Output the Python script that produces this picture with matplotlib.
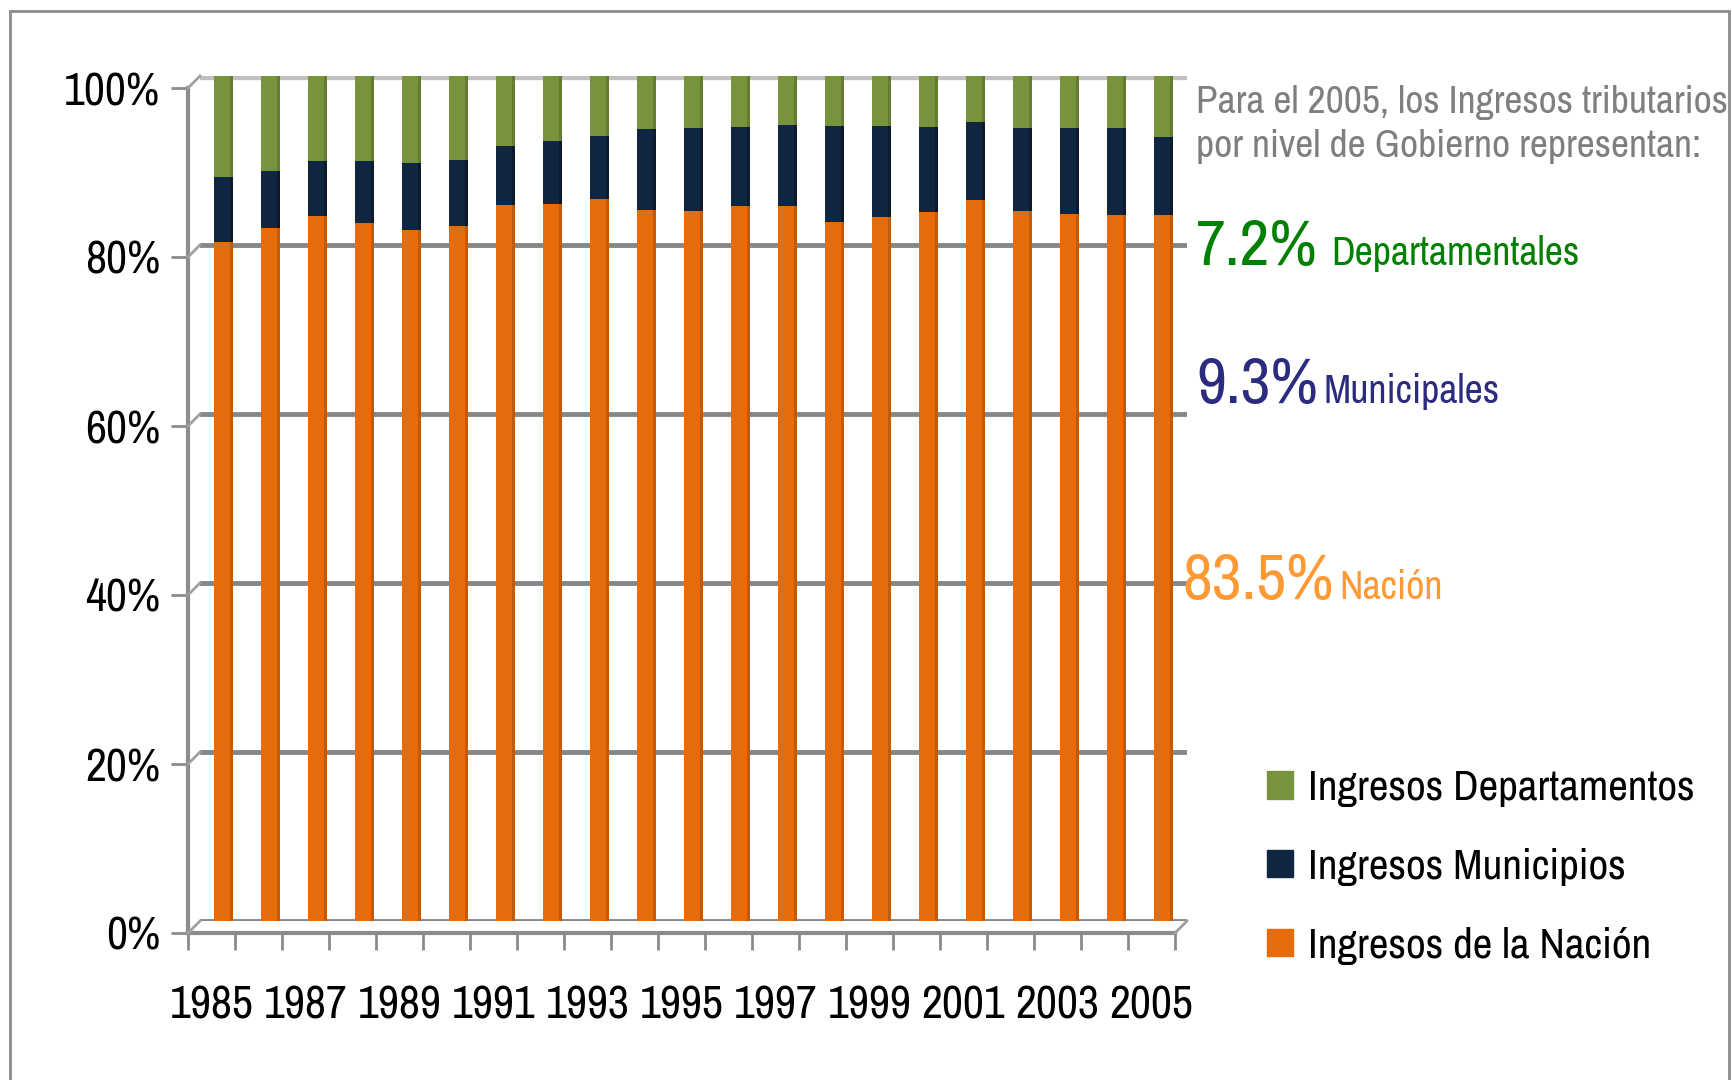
import numpy as np
import matplotlib

matplotlib.use("Agg")
import matplotlib.pyplot as plt
from matplotlib.lines import Line2D
from matplotlib.patches import Patch, Rectangle

years = list(range(1985, 2006))
# shares in %
nacion = [80.4, 82.0, 83.4, 82.6, 81.8, 82.3, 84.7, 84.9, 85.4, 84.2, 84.0,
          84.6, 84.6, 82.7, 83.3, 83.9, 85.3, 84.0, 83.7, 83.5, 83.5]
municipios = [7.7, 6.7, 6.5, 7.3, 7.9, 7.8, 7.0, 7.4, 7.5, 9.5, 9.8,
              9.4, 9.6, 11.4, 10.8, 10.1, 9.2, 9.9, 10.2, 10.4, 9.3]
departamentos = [100 - n - m for n, m in zip(nacion, municipios)]

series_labels = ["Ingresos Departamentos", "Ingresos Municipios", "Ingresos de la Nación"]
colors = {"dep": "#77933C", "mun": "#10253F", "nac": "#E46C0A"}

plt.rcParams["font.family"] = ["Archivo Narrow", "Liberation Sans Narrow", "DejaVu Sans"]

W, H = 1732, 1080
fig = plt.figure(figsize=(W / 100, H / 100), dpi=100)


def box(left, top, right, bottom):
    return [left / W, 1 - bottom / H, (right - left) / W, (bottom - top) / H]


# outer frame
fig.patches.append(Rectangle((10 / W, -0.05), (1729 - 10) / W, 1.05 - 11 / H,
                             transform=fig.transFigure, fill=False,
                             edgecolor="#8c8c8c", lw=2))

# back wall: gridlines + bars
back = fig.add_axes(box(200, 76, 1187, 921))
front = fig.add_axes(box(188, 88, 1175, 933))

x = np.arange(len(years))
back.set_xlim(-0.5, len(years) - 0.5)
back.set_ylim(0, 1)
for v in [0.0, 0.2, 0.4, 0.6, 0.8]:
    back.axhline(v, color="#878787", lw=3.5, zorder=1)
back.axhline(1.0, color="#c0c0c0", lw=6, zorder=1)

nac = np.array(nacion) / 100
mun = np.array(municipios) / 100
dep = np.array(departamentos) / 100
bw = 0.42
back.bar(x, nac, bw, color=colors["nac"], zorder=3)
back.bar(x, mun, bw, bottom=nac, color=colors["mun"], zorder=3)
back.bar(x, dep, bw, bottom=nac + mun, color=colors["dep"], zorder=3)
# darker right side of each cylinder-ish bar
side = 0.08
back.bar(x + bw / 2 - side / 2, nac, side, color="#C45A05", zorder=4)
back.bar(x + bw / 2 - side / 2, mun, side, bottom=nac, color="#0B1A2E", zorder=4)
back.bar(x + bw / 2 - side / 2, dep, side, bottom=nac + mun, color="#637C2F", zorder=4)
back.set_axis_off()

# front plane: axes lines, ticks and labels
front.patch.set_visible(False)
front.set_xlim(-0.5, len(years) - 0.5)
front.set_ylim(0, 1)
for s in ["top", "right"]:
    front.spines[s].set_visible(False)
for s in ["left", "bottom"]:
    front.spines[s].set_color("#8c8c8c")
    front.spines[s].set_linewidth(3)
front.set_yticks([0, 0.2, 0.4, 0.6, 0.8, 1.0])
front.set_yticklabels(["0%", "20%", "40%", "60%", "80%", "100%"])
front.tick_params(axis="y", length=12, width=2, color="#8c8c8c", labelsize=33, pad=8)
front.set_xticks(x[::2])
front.set_xticklabels([str(y) for y in years[::2]])
front.set_xticks(np.arange(-0.5, len(years), 1), minor=True)
front.tick_params(axis="x", which="major", length=0, labelsize=33, pad=37)
front.tick_params(axis="x", which="minor", length=12, width=2, color="#8c8c8c")

# 3D corner connectors
for v in [0.0, 0.2, 0.4, 0.6, 0.8, 1.0]:
    yf = 933 - v * (933 - 88)
    yb = 921 - v * (921 - 76)
    fig.add_artist(Line2D([188 / W, 200 / W], [1 - yf / H, 1 - yb / H],
                          color="#a0a0a0", lw=2))
fig.add_artist(Line2D([1175 / W, 1187 / W], [1 - 933 / H, 1 - 921 / H],
                      color="#a0a0a0", lw=2))

# notes on the right
fig.text(1196 / W, 1 - 102 / H, "Para el 2005, los Ingresos tributarios",
         fontsize=28.5, color="#7f7f7f", va="center", ha="left")
fig.text(1196 / W, 1 - 146 / H, "por nivel de Gobierno representan:",
         fontsize=28.5, color="#7f7f7f", va="center", ha="left")

fig.text(1196 / W, 1 - 265 / H, "7.2%", fontsize=47, color="#008000", va="baseline")
fig.text(1331 / W, 1 - 265 / H, "Departamentales", fontsize=28.7, color="#008000", va="baseline")
fig.text(1196 / W, 1 - 403 / H, "9.3%", fontsize=47, color="#2B2B7F", va="baseline")
fig.text(1323 / W, 1 - 403 / H, "Municipales", fontsize=28.7, color="#2B2B7F", va="baseline")
fig.text(1182 / W, 1 - 599 / H, "83.5%", fontsize=47, color="#FF9933", va="baseline")
fig.text(1339 / W, 1 - 599 / H, "Nación", fontsize=28.7, color="#FF9933", va="baseline")

handles = [Patch(color=colors["dep"]), Patch(color=colors["mun"]), Patch(color=colors["nac"])]
fig.legend(handles, series_labels, loc="center left",
           bbox_to_anchor=(1228 / W, 1 - 867 / H), frameon=False, fontsize=31,
           handlelength=0.6, handleheight=0.6, handletextpad=0.35, labelspacing=0.95)

fig.savefig("out.png", dpi=100)
